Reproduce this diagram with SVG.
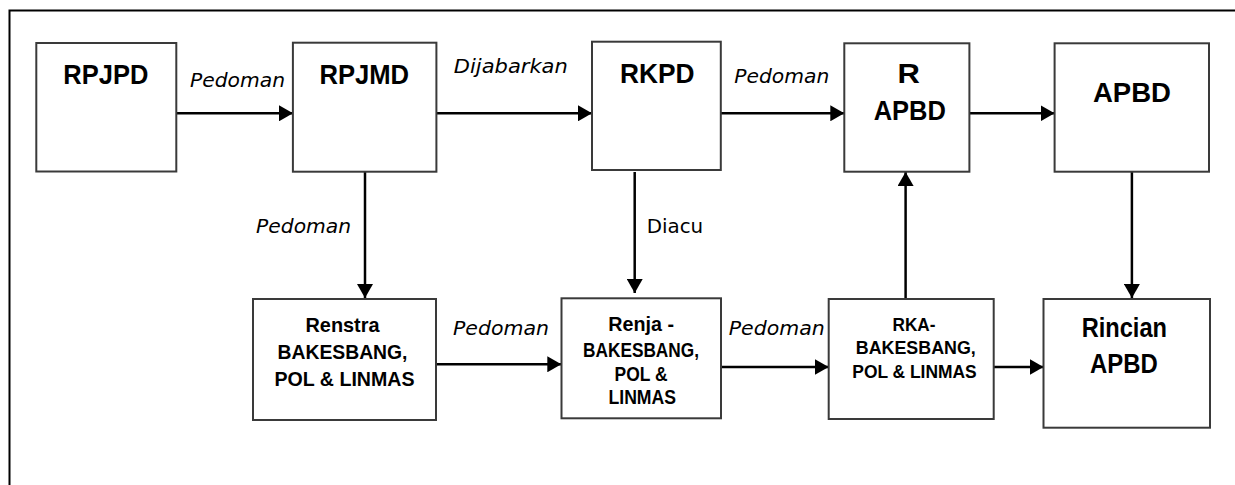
<svg xmlns="http://www.w3.org/2000/svg" width="1235" height="485" viewBox="0 0 1235 485">
<style>
.box{fill:#fff;stroke:#3a3a3a;stroke-width:2}
.b{font-family:"Liberation Sans Narrow","Liberation Sans",Arial,sans-serif;font-weight:bold;fill:#000}
.lbl{font-family:"DejaVu Sans",Verdana,sans-serif;font-size:20px;fill:#000}
.it{font-style:italic}
.con{fill:none;stroke:#000;stroke-width:2.5}
</style>
<defs>
<marker id="ah" markerUnits="userSpaceOnUse" markerWidth="15" markerHeight="16" refX="14" refY="8" orient="auto" viewBox="0 0 15 16">
<path d="M0,0 L14,8 L0,16 Z" fill="#000"/>
</marker>
</defs>
<rect width="1235" height="485" fill="#fff"/>
<path d="M9.5,490 L9.5,10.5 L1240,10.5" fill="none" stroke="#000" stroke-width="2"/>

<g id="connectors">
<line class="con" x1="176.3" y1="113.3" x2="293" y2="113.3" marker-end="url(#ah)"/>
<line class="con" x1="436.4" y1="113.3" x2="592" y2="113.3" marker-end="url(#ah)"/>
<line class="con" x1="720.8" y1="113.3" x2="844.3" y2="113.3" marker-end="url(#ah)"/>
<line class="con" x1="969.4" y1="113.3" x2="1054.6" y2="113.3" marker-end="url(#ah)"/>
<line class="con" x1="365" y1="171.7" x2="365" y2="298" marker-end="url(#ah)"/>
<line class="con" x1="634.7" y1="172" x2="634.7" y2="293" marker-end="url(#ah)"/>
<line class="con" x1="905.6" y1="299" x2="905.6" y2="172" marker-end="url(#ah)"/>
<line class="con" x1="1131.9" y1="171.7" x2="1131.9" y2="298" marker-end="url(#ah)"/>
<line class="con" x1="436" y1="364.3" x2="561.3" y2="364.3" marker-end="url(#ah)"/>
<line class="con" x1="720.8" y1="367" x2="828.7" y2="367" marker-end="url(#ah)"/>
<line class="con" x1="992" y1="367" x2="1043.5" y2="367" marker-end="url(#ah)"/>
<text class="lbl it" x="190" y="87.3" textLength="95" lengthAdjust="spacingAndGlyphs">Pedoman</text>
<text class="lbl it" x="453.8" y="72.7" textLength="114" lengthAdjust="spacingAndGlyphs">Dijabarkan</text>
<text class="lbl it" x="734.3" y="83.3" textLength="95" lengthAdjust="spacingAndGlyphs">Pedoman</text>
<text class="lbl it" x="256.1" y="233.3" textLength="95" lengthAdjust="spacingAndGlyphs">Pedoman</text>
<text class="lbl" x="646.7" y="233.3" textLength="56.5" lengthAdjust="spacingAndGlyphs">Diacu</text>
<text class="lbl it" x="453" y="335" textLength="96" lengthAdjust="spacingAndGlyphs">Pedoman</text>
<text class="lbl it" x="728.7" y="335" textLength="96" lengthAdjust="spacingAndGlyphs">Pedoman</text>
</g>

<g id="rpjpd">
<rect class="box" x="36.3" y="43" width="140" height="128.5"/>
<text class="b" x="63.3" y="83.5" font-size="28" textLength="85" lengthAdjust="spacingAndGlyphs">RPJPD</text>
</g>
<g id="rpjmd">
<rect class="box" x="292.9" y="42.7" width="143.5" height="129"/>
<text class="b" x="319.4" y="84" font-size="28" textLength="89.7" lengthAdjust="spacingAndGlyphs">RPJMD</text>
</g>
<g id="rkpd">
<rect class="box" x="592" y="41.7" width="128.8" height="128.3"/>
<text class="b" x="620" y="83.3" font-size="28" textLength="74.5" lengthAdjust="spacingAndGlyphs">RKPD</text>
</g>
<g id="rapbd">
<rect class="box" x="844.3" y="43.3" width="125.1" height="128.4"/>
<text class="b" x="897.6" y="83.3" font-size="28" textLength="22.4" lengthAdjust="spacingAndGlyphs">R</text>
<text class="b" x="873.7" y="120" font-size="28" textLength="72.2" lengthAdjust="spacingAndGlyphs">APBD</text>
</g>
<g id="apbd">
<rect class="box" x="1054.6" y="43.3" width="154.4" height="128.4"/>
<text class="b" x="1092.9" y="101.7" font-size="28" textLength="78" lengthAdjust="spacingAndGlyphs">APBD</text>
</g>

<g id="renstra">
<rect class="box" x="253" y="299" width="183" height="121"/>
<text class="b" x="305.5" y="331.7" font-size="21" textLength="74" lengthAdjust="spacingAndGlyphs">Renstra</text>
<text class="b" x="277.5" y="358.5" font-size="21" textLength="130" lengthAdjust="spacingAndGlyphs">BAKESBANG,</text>
<text class="b" x="274.5" y="386" font-size="21" textLength="140" lengthAdjust="spacingAndGlyphs">POL &amp; LINMAS</text>
</g>
<g id="renja">
<rect class="box" x="561.5" y="298.3" width="159.5" height="120"/>
<text class="b" x="608.3" y="330.5" font-size="20" textLength="65.7" lengthAdjust="spacingAndGlyphs">Renja -</text>
<text class="b" x="583" y="356.5" font-size="20" textLength="116" lengthAdjust="spacingAndGlyphs">BAKESBANG,</text>
<text class="b" x="614.5" y="380.5" font-size="20" textLength="53" lengthAdjust="spacingAndGlyphs">POL &amp;</text>
<text class="b" x="608.5" y="403.5" font-size="20" textLength="67.5" lengthAdjust="spacingAndGlyphs">LINMAS</text>
</g>
<g id="rka">
<rect class="box" x="828.7" y="299" width="165" height="120"/>
<text class="b" x="892.5" y="331" font-size="18.5" textLength="43" lengthAdjust="spacingAndGlyphs">RKA-</text>
<text class="b" x="855.8" y="354.2" font-size="18.5" textLength="120" lengthAdjust="spacingAndGlyphs">BAKESBANG,</text>
<text class="b" x="852.3" y="378.2" font-size="18.5" textLength="124.4" lengthAdjust="spacingAndGlyphs">POL &amp; LINMAS</text>
</g>
<g id="rincian">
<rect class="box" x="1043.5" y="299" width="166.5" height="128.7"/>
<text class="b" x="1081.7" y="336.7" font-size="27" textLength="85.3" lengthAdjust="spacingAndGlyphs">Rincian</text>
<text class="b" x="1090" y="372.7" font-size="27" textLength="67.8" lengthAdjust="spacingAndGlyphs">APBD</text>
</g>
</svg>
